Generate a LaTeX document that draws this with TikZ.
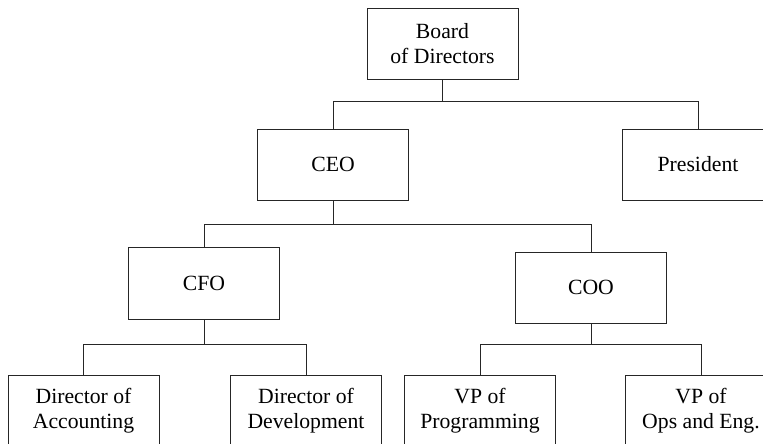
\documentclass[tikz,border=0pt]{standalone}
\usepackage{fontspec}
\setmainfont{Liberation Serif}
\begin{document}
\begin{tikzpicture}[x=1pt,y=-1pt,
  orgbox/.style={draw=black!85, line width=0.9pt, fill=white, rectangle,
    minimum width=151pt, minimum height=71pt, inner sep=0pt, align=center,
    font=\fontsize{21.7}{25}\selectfont},
  link/.style={draw=black!85, line width=0.9pt}]
\useasboundingbox (0,0) rectangle (763,444);
\clip (0,0) rectangle (763,444);
\fill[white] (0,0) rectangle (763,444);
\node[orgbox] (board) at (442.5,43.5) {Board\\of Directors};
\node[orgbox] (ceo) at (333,164.5) {CEO};
\node[orgbox] (pres) at (698,164.5) {President};
\node[orgbox, minimum height=72pt] (cfo) at (204,283) {CFO};
\node[orgbox] (coo) at (591,287.5) {COO};
\node[orgbox] (acct) at (83.5,410.5) {Director of\\Accounting};
\node[orgbox] (dev) at (306,410.5) {Director of\\Development};
\node[orgbox] (prog) at (480,410.5) {VP of\\Programming};
\node[orgbox] (ops) at (701,410.5) {VP of\\Ops and Eng.};
\coordinate (b1) at (442.5,101);
\coordinate (b2) at (333,224);
\coordinate (b3) at (204,344);
\coordinate (b4) at (591,344);
\draw[link] (board.south) -- (b1);
\draw[link] (b1) -| (ceo.north);
\draw[link] (b1) -| (pres.north);
\draw[link] (ceo.south) -- (b2);
\draw[link] (b2) -| (cfo.north);
\draw[link] (b2) -| (coo.north);
\draw[link] (cfo.south) -- (b3);
\draw[link] (b3) -| (acct.north);
\draw[link] (b3) -| (dev.north);
\draw[link] (coo.south) -- (b4);
\draw[link] (b4) -| (prog.north);
\draw[link] (b4) -| (ops.north);
\end{tikzpicture}
\end{document}
